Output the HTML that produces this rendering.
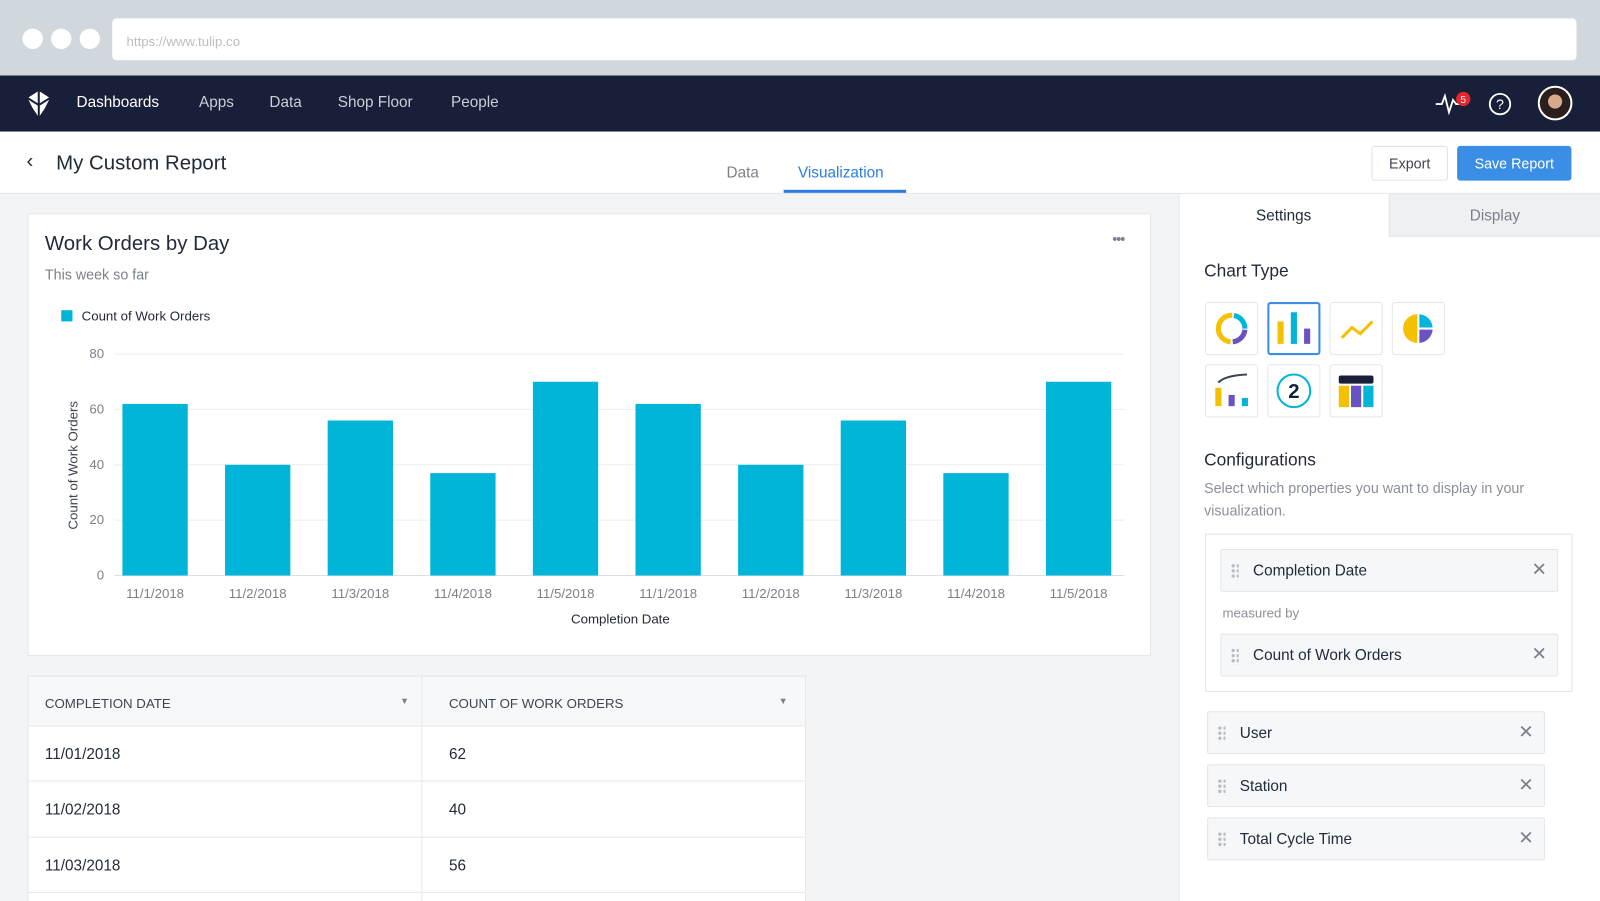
<!DOCTYPE html>
<html><head><meta charset="utf-8">
<style>
*{box-sizing:border-box;margin:0;padding:0}
html,body{width:1600px;height:901px;overflow:hidden}
body{background:#fff;font-family:"Liberation Sans",sans-serif;position:relative}
#wrap{position:absolute;left:0;top:0;width:1568px;height:883px;transform:scale(1.020408);transform-origin:0 0;background:#f3f4f6;overflow:hidden}
.abs{position:absolute}
.nav a{position:absolute;top:92px;font-size:15px;color:#c9ced8;text-decoration:none}
.item{position:absolute;background:#f6f7f9;border:1px solid #e2e5e9;border-radius:2px;font-size:15px;color:#222b3a}
.item .t{position:absolute;left:31px;top:12px}
.item .x{position:absolute;right:10px;top:9px;font-size:18px;color:#7b818a}
.item .g{position:absolute;left:9px;top:13px;width:8px;height:16px;background-image:radial-gradient(circle,#b7bcc4 1.6px,transparent 1.8px);background-size:5px 5px}
.ic{position:absolute;width:52px;height:52px;background:#fff;border:1px solid #e4e6e9;border-radius:3px}
.row{position:absolute;left:0;width:761px;height:54px;border-top:1px solid #e5e7ea;background:#fff;font-size:15px;color:#222b3a}
.row span{position:absolute;top:19px}
</style></head><body>
<div id="wrap">
<div class="abs" style="left:0;top:0;width:1568px;height:74px;background:#d0d7dd"></div>
<div class="abs" style="left:22px;top:28px;width:20px;height:20px;border-radius:50%;background:#fff"></div>
<div class="abs" style="left:50px;top:28px;width:20px;height:20px;border-radius:50%;background:#fff"></div>
<div class="abs" style="left:78px;top:28px;width:20px;height:20px;border-radius:50%;background:#fff"></div>
<div class="abs" style="left:110px;top:18px;width:1435px;height:41px;border-radius:4px;background:#fff;font-size:13px;color:#b9bec4;padding:15px 14px">https://www.tulip.co</div>
<div class="abs nav" style="left:0;top:74px;width:1568px;height:55px;background:#182039"></div>
<svg class="abs" style="left:26px;top:88px" width="24" height="28"><path d="M12 1 L23 8 L18 18 L12 27 L6 18 L1 8 Z" fill="#fff"/><path d="M12 1 L12 27 M1 8 L12 15 L23 8" stroke="#182039" stroke-width="2" fill="none"/></svg>
<div class="nav">
<a style="left:75px;color:#fff">Dashboards</a>
<a style="left:195px">Apps</a>
<a style="left:264px">Data</a>
<a style="left:331px">Shop Floor</a>
<a style="left:442px">People</a>
</div>
<svg class="abs" style="left:1406px;top:88px" width="36" height="26"><polyline points="1,14 7,14 10,6 14,22 18,10 21,14 26,14" fill="none" stroke="#fff" stroke-width="1.8"/><circle cx="28" cy="9" r="7" fill="#e5262a"/><text x="28" y="13" font-size="10" fill="#fff" text-anchor="middle" font-family="Liberation Sans">5</text></svg>
<svg class="abs" style="left:1458px;top:90px" width="24" height="24"><circle cx="12" cy="12" r="10" fill="none" stroke="#fff" stroke-width="1.8"/><text x="12" y="17" font-size="14" fill="#fff" text-anchor="middle" font-family="Liberation Sans">?</text></svg>
<div class="abs" style="left:1507px;top:84px;width:34px;height:34px;border-radius:50%;background:radial-gradient(circle at 50% 45%,#d9a98c 0 30%,#2a1f1d 32%);border:2px solid #fff"></div>
<div class="abs" style="left:0;top:129px;width:1568px;height:61px;background:#fff;border-bottom:1px solid #e2e5e9"></div>
<div class="abs" style="left:26px;top:147px;font-size:20px;color:#222b3a">‹</div>
<div class="abs" style="left:55px;top:149px;font-size:20px;color:#222b3a">My Custom Report</div>
<div class="abs" style="left:712px;top:161px;font-size:15px;color:#7b818a">Data</div>
<div class="abs" style="left:782px;top:161px;font-size:15px;color:#2b7de1">Visualization</div>
<div class="abs" style="left:768px;top:186px;width:120px;height:3px;background:#2b7de1"></div>
<div class="abs" style="left:1344px;top:143px;width:75px;height:34px;border:1px solid #dfe2e6;border-radius:3px;background:#fff;font-size:14px;color:#3d4551;text-align:center;line-height:32px">Export</div>
<div class="abs" style="left:1428px;top:143px;width:112px;height:34px;border-radius:3px;background:#3a8ee6;font-size:14px;color:#fff;text-align:center;line-height:34px">Save Report</div>
<div class="abs" style="left:27px;top:209px;width:1101px;height:434px;background:#fff;border:1px solid #e3e5e8"></div>
<div class="abs" style="left:44px;top:228px;font-size:20px;color:#222b3a">Work Orders by Day</div>
<div class="abs" style="left:44px;top:261px;font-size:14px;color:#7b818a">This week so far</div>
<div class="abs" style="left:1090px;top:226px;font-size:14px;color:#7b818a;letter-spacing:-1px">•••</div>
<svg id="chart" class="abs" style="left:0;top:0" width="1140" height="640"></svg>
<div class="abs" style="left:27px;top:662px;width:763px;height:221px;border:1px solid #e3e5e8;border-bottom:none;background:#fff;overflow:hidden">
<div class="abs" style="left:0;top:0;width:761px;height:48px;background:#f7f8f9;font-size:13px;color:#3d4551">
<span class="abs" style="left:16px;top:19px">COMPLETION DATE</span>
<span class="abs" style="left:364px;top:19px;font-size:9px;color:#7b818a">▼</span>
<span class="abs" style="left:412px;top:19px">COUNT OF WORK ORDERS</span>
<span class="abs" style="left:735px;top:19px;font-size:9px;color:#7b818a">▼</span>
</div>
<div class="row" style="top:48px"><span style="left:16px">11/01/2018</span><span style="left:412px">62</span></div>
<div class="row" style="top:102px"><span style="left:16px">11/02/2018</span><span style="left:412px">40</span></div>
<div class="row" style="top:157px"><span style="left:16px">11/03/2018</span><span style="left:412px">56</span></div>
<div class="row" style="top:211px;height:10px"></div>
<div class="abs" style="left:385px;top:0;width:1px;height:221px;background:#e5e7ea"></div>
</div>
<div class="abs" style="left:1155px;top:190px;width:413px;height:693px;background:#fff;border-left:1px solid #e2e5e9"></div>
<div class="abs" style="left:1155px;top:190px;width:206px;height:42px;font-size:15px;color:#222b3a;text-align:center;line-height:44px">Settings</div>
<div class="abs" style="left:1361px;top:190px;width:207px;height:42px;background:#eef0f2;border-left:1px solid #e2e5e9;border-bottom:1px solid #e2e5e9;font-size:15px;color:#7b818a;text-align:center;line-height:44px">Display</div>
<div class="abs" style="left:1180px;top:256px;font-size:17px;color:#222b3a">Chart Type</div>
<div class="ic" style="left:1181px;top:296px"><svg width="50" height="50"><circle cx="25" cy="25" r="13" fill="none" stroke="#f5c000" stroke-width="5" stroke-dasharray="40 42" transform="rotate(95 25 25)"/><circle cx="25" cy="25" r="13" fill="none" stroke="#00b5d8" stroke-width="5" stroke-dasharray="18 64" transform="rotate(-80 25 25)"/><circle cx="25" cy="25" r="13" fill="none" stroke="#6a52c2" stroke-width="5" stroke-dasharray="18 64" transform="rotate(5 25 25)"/></svg></div>
<div class="ic" style="left:1242px;top:296px;border:2px solid #3a8ee6"><svg width="48" height="48"><rect x="8" y="17" width="6" height="22" fill="#f5c000"/><rect x="21" y="8" width="6" height="31" fill="#00b5d8"/><rect x="34" y="24" width="6" height="15" fill="#6a52c2"/></svg></div>
<div class="ic" style="left:1303px;top:296px"><svg width="50" height="50"><polyline points="11,34 21,24 29,30 41,18" fill="none" stroke="#f5c000" stroke-width="3"/></svg></div>
<div class="ic" style="left:1364px;top:296px"><svg width="50" height="50"><path d="M24 11 A14 14 0 0 0 24 39 Z" fill="#f5c000"/><path d="M26 11 A14 14 0 0 1 39 24 L26 24 Z" fill="#00b5d8"/><path d="M26 26 L39 26 A14 14 0 0 1 26 39 Z" fill="#6a52c2"/></svg></div>
<div class="ic" style="left:1181px;top:357px"><svg width="50" height="50"><path d="M12 17 Q18 10 40 9" fill="none" stroke="#3d4551" stroke-width="2"/><rect x="9" y="22" width="6" height="18" fill="#f5c000"/><rect x="22" y="29" width="6" height="11" fill="#6a52c2"/><rect x="35" y="32" width="6" height="8" fill="#00b5d8"/></svg></div>
<div class="ic" style="left:1242px;top:357px"><svg width="50" height="50"><circle cx="25" cy="25" r="16" fill="none" stroke="#00b5d8" stroke-width="2"/><text x="25" y="32" font-size="20" font-weight="bold" fill="#182039" text-anchor="middle" font-family="Liberation Sans">2</text></svg></div>
<div class="ic" style="left:1303px;top:357px"><svg width="50" height="50"><rect x="8" y="10" width="34" height="8" rx="2" fill="#182039"/><rect x="8" y="20" width="10" height="21" fill="#f5c000"/><rect x="20" y="20" width="10" height="21" fill="#6a52c2"/><rect x="32" y="20" width="10" height="21" fill="#00b5d8"/></svg></div>
<div class="abs" style="left:1180px;top:441px;font-size:17px;color:#222b3a">Configurations</div>
<div class="abs" style="left:1180px;top:467px;width:360px;font-size:14px;line-height:22px;color:#8a9099">Select which properties you want to display in your visualization.</div>
<div class="abs" style="left:1181px;top:523px;width:360px;height:155px;border:1px solid #e2e5e9;background:#fff"></div>
<div class="item" style="left:1196px;top:538px;width:331px;height:42px"><div class="g"></div><span class="t">Completion Date</span><span class="x">✕</span></div>
<div class="abs" style="left:1198px;top:593px;font-size:13px;color:#8a9099">measured by</div>
<div class="item" style="left:1196px;top:621px;width:331px;height:42px"><div class="g"></div><span class="t">Count of Work Orders</span><span class="x">✕</span></div>
<div class="item" style="left:1183px;top:697px;width:331px;height:42px"><div class="g"></div><span class="t">User</span><span class="x">✕</span></div>
<div class="item" style="left:1183px;top:749px;width:331px;height:42px"><div class="g"></div><span class="t">Station</span><span class="x">✕</span></div>
<div class="item" style="left:1183px;top:801px;width:331px;height:42px"><div class="g"></div><span class="t">Total Cycle Time</span><span class="x">✕</span></div>
</div>
<script>
const categories = ["11/1/2018","11/2/2018","11/3/2018","11/4/2018","11/5/2018","11/1/2018","11/2/2018","11/3/2018","11/4/2018","11/5/2018"];
const workOrders = [62,40,56,37,70,62,40,56,37,70];
const yTicks = [0,20,40,60,80];
const svg = document.getElementById('chart');
const NS = 'http://www.w3.org/2000/svg';
const x0 = 101.7, x1 = 1107.3, y0 = 564, y1 = 347, yMax = 80;
const band = (x1 - x0) / categories.length;
const yScale = v => y0 - (v / yMax) * (y0 - y1);
const xCenter = i => x0 + band * (i + 0.5);
function mk(tag, attrs, text){const e=document.createElementNS(NS,tag);for(const k in attrs)e.setAttribute(k,attrs[k]);if(text!==undefined)e.textContent=text;svg.appendChild(e);return e;}
yTicks.forEach(t=>{
  const g = mk('line',{x1:112,x2:1102,y1:yScale(t),y2:yScale(t),stroke:t===0?'#dcdfe3':'#eceef0','stroke-width':1});
  
  
  const l = mk('text',{x:102,y:yScale(t)+4,'text-anchor':'end','font-size':13,fill:'#7b818a','font-family':'Liberation Sans'},String(t));
  
  
});
workOrders.forEach((v,i)=>{
  const b = mk('rect',{x:xCenter(i)-32,y:yScale(v),width:64,height:y0-yScale(v),fill:'#00b5d8'});
  
  
  const l = mk('text',{x:xCenter(i),y:586,'text-anchor':'middle','font-size':13,fill:'#7b818a','font-family':'Liberation Sans'},categories[i]);
  
  
});
const xt = mk('text',{x:608,y:611,'text-anchor':'middle','font-size':13,fill:'#222b3a','font-family':'Liberation Sans'},'Completion Date');


const yt = mk('text',{x:0,y:0,transform:'translate(76,456) rotate(-90)','text-anchor':'middle','font-size':13,fill:'#3d4551','font-family':'Liberation Sans'},'Count of Work Orders');


const ls = mk('rect',{x:60,y:304,width:11,height:11,fill:'#00b5d8'});


const lt = mk('text',{x:80,y:314,'font-size':13,fill:'#222b3a','font-family':'Liberation Sans'},'Count of Work Orders');


</script>
</body></html>
